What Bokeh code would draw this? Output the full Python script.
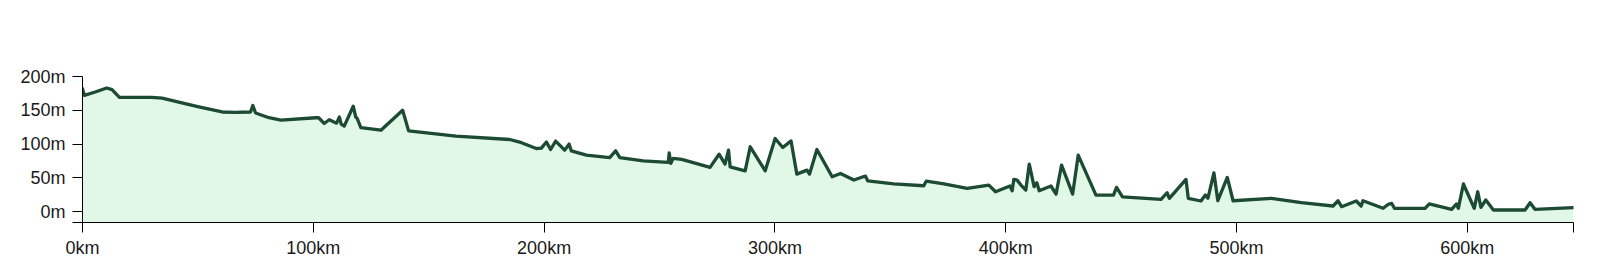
from bokeh.plotting import figure
from bokeh.models import Range1d, FixedTicker
from bokeh.embed import file_html
from bokeh.resources import INLINE

# distance along route (km) and elevation (m)
distance_km = [0, 0.8, 5.5, 10.5, 12.8, 16, 30, 34.5, 41.7, 50.4, 60.5, 66, 72.8, 73.8, 75, 80.8, 86,
               101.1, 102.3, 104.7, 106.9, 110.1, 111.3, 112.1, 113.4, 117.3, 118.4, 119, 120.6,
               129.3, 138.7, 141.3, 161.8, 185.1, 189.4, 196.6, 198.8, 201, 202.8, 205, 208.9,
               210.8, 211.8, 218.3, 228.4, 231, 232.8, 242.9, 253.8, 254.2, 254.9, 255.9, 259.6,
               271.9, 275.8, 278.4, 279.9, 280.6, 287.1, 289.3, 295.8, 300.1, 303.4, 307, 309.5,
               313.9, 315, 318.2, 324.8, 328.4, 334.2, 339.2, 340.2, 351.5, 364.5, 365.6, 373.2,
               383.3, 392.7, 395.6, 401.8, 402.8, 403.5, 404.9, 406.6, 408.7, 410.2, 412.3, 413.5,
               414.5, 419.6, 421.8, 424.2, 429, 431.4, 439.1, 446.7, 448, 450.6, 467.3, 469.9,
               470.9, 478.1, 479.1, 484.6, 486.5, 487.6, 490.2, 491.9, 496, 498.5, 515.1, 528.1,
               541.8, 544, 545.5, 551.9, 554, 554.8, 563.5, 565.8, 567.2, 568.4, 581.7, 583.5,
               593.2, 595.3, 596.1, 598.3, 603, 604.5, 605.9, 608, 611.3, 625, 627.2, 629.3, 646]
elevation_m = [182, 172, 177, 183, 180.5, 169, 169, 168, 162, 155, 147.5, 147, 147.5, 157, 146, 139, 135.5,
               139, 139, 130.5, 136, 131, 140, 129.5, 126.5, 156, 140, 138, 124.5,
               120.5, 150, 119.5, 111.7, 106.8, 103, 93.5, 94, 103, 92, 104.5, 91,
               100, 90, 83.6, 80, 90, 80, 75.2, 73, 87, 71.4, 78.8, 77.3,
               65.5, 85, 70.4, 91, 66.4, 60.5, 96, 60.5, 108.3, 95, 104.7, 55.6,
               61.5, 55.6, 92, 51.6, 56.6, 46.8, 52.7, 45.7, 41, 38.4, 45.3, 41,
               34.5, 39.4, 29.5, 38, 31, 47.8, 46.8, 39.4, 32, 70.4, 37, 42.8,
               31, 38, 26, 69, 26, 83.6, 24.6, 24.6, 36, 22, 18.3, 28,
               19.8, 47.8, 19.8, 15.8, 24.6, 19.8, 57.5, 16.2, 50.7, 16.2, 19.8, 13.3,
               8.4, 16.2, 7.4, 15.8, 8.4, 16.2, 5, 11, 12.4, 5, 5, 11.4,
               3.5, 11.4, 5, 41, 5, 29.5, 6.5, 17.3, 2.5, 2.5, 13.3, 3.5, 6]

x_ticks = [0, 100, 200, 300, 400, 500, 600]
y_ticks = [0, 50, 100, 150, 200]
x_max = 646
y_min = -16
y_max = 200

p = figure(width=1600, height=274, output_backend="svg", toolbar_location=None,
           x_range=Range1d(0, x_max), y_range=Range1d(y_min, y_max),
           min_border_left=82, min_border_right=27, min_border_top=76, min_border_bottom=52)
p.background_fill_color = "white"
p.border_fill_color = "white"
p.outline_line_color = None
p.grid.visible = False

p.varea(x=distance_km, y1=[y_min] * len(distance_km), y2=elevation_m,
        fill_color="#e1f8e7", fill_alpha=1.0)
p.line(distance_km, elevation_m, line_color="#1c4a33", line_width=3.3,
       line_join="round", line_cap="round")

p.xaxis.ticker = FixedTicker(ticks=x_ticks + [x_max])
p.xaxis.major_label_overrides = {t: f"{t}km" for t in x_ticks} | {x_max: ""}
p.yaxis.ticker = FixedTicker(ticks=[y_min] + y_ticks)
p.yaxis.major_label_overrides = {t: f"{t}m" for t in y_ticks} | {y_min: ""}

for ax in (p.xaxis[0], p.yaxis[0]):
    ax.axis_line_color = "black"
    ax.axis_line_width = 1
    ax.major_tick_line_color = "black"
    ax.major_tick_line_width = 1
    ax.major_tick_out = 10
    ax.major_tick_in = 0
    ax.minor_tick_line_color = None
    ax.major_label_text_font = "Liberation Sans"
    ax.major_label_text_font_size = "18px"
    ax.major_label_text_color = "#1a1a1a"
p.xaxis.major_label_standoff = 5
p.yaxis.major_label_standoff = 7

open("out.html", "w").write(file_html(p, INLINE))
